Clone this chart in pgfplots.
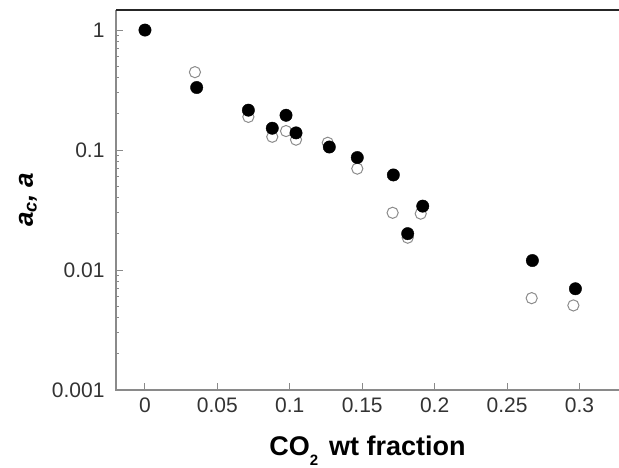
\documentclass[border=0pt]{standalone}
\usepackage{pgfplots}
\pgfplotsset{compat=1.18}
\usepackage{fontspec}
\setmainfont{Liberation Sans}

\definecolor{axgray}{HTML}{8A8A8A}
\definecolor{opengray}{HTML}{8C8C8C}
\definecolor{ticktext}{HTML}{333333}

\begin{document}
\begin{tikzpicture}
\begin{axis}[
  scale only axis, width=503pt, height=380pt,
  ymode=log,
  xmin=-0.02, xmax=0.3273, ymin=0.001, ymax=1.47,
  xtick={0,0.05,0.1,0.15,0.2,0.25,0.3},
  xticklabels={0,0.05,0.1,0.15,0.2,0.25,0.3},
  ytick={0.001,0.01,0.1,1},
  yticklabels={0.001,0.01,0.1,1},
  minor ytick={}, log ticks with fixed point,
  xtick pos=bottom, ytick pos=left,
  tick align=inside, major tick length=7pt,
  tick style={axgray, line width=1pt},
  axis line style={draw=none},
  /pgf/number format/assume math mode=true,
  ticklabel style={font=\fontsize{21}{24}\selectfont, text=ticktext},
  xticklabel shift=4pt, yticklabel shift=8pt,
  every axis x label/.style={at={(rel axis cs:0.5,0)}, anchor=base, yshift=-65pt},
  every axis y label/.style={at={(rel axis cs:0,0.5)}, anchor=center, rotate=90, yshift=88pt},
  xlabel={\fontsize{27}{30}\selectfont\bfseries CO\raisebox{-0.38em}{\fontsize{15}{15}\selectfont 2}\hspace{0.12em} wt fraction},
  ylabel={\fontsize{26}{30}\selectfont\bfseries\itshape a\textsubscript{c}, a},
  clip=false,
]
% open circles
\addplot[only marks, mark=*, mark size=5.6pt,
  mark options={draw=opengray, fill=white, line width=1pt}] coordinates {
  (0.0345,0.446) (0.0714,0.189) (0.0879,0.129) (0.0974,0.144) (0.1043,0.122)
  (0.1262,0.115) (0.1466,0.070) (0.1710,0.030) (0.1904,0.0295) (0.1814,0.0186)
  (0.2670,0.00583) (0.2958,0.00507)};
% filled circles
\addplot[only marks, mark=*, mark size=6.2pt,
  mark options={draw=black, fill=black}] coordinates {
  (0,1) (0.0357,0.332) (0.0714,0.215) (0.0879,0.152) (0.0974,0.195)
  (0.1043,0.139) (0.1273,0.106) (0.1466,0.0866) (0.1715,0.062) (0.1918,0.0341)
  (0.1814,0.0201) (0.2675,0.0120) (0.2972,0.00698)};
\draw[axgray, line width=1.3pt] (rel axis cs:0,1) -- (rel axis cs:0,0) -- (rel axis cs:1,0);
\draw[black!85, line width=1.4pt] (rel axis cs:0,1) -- (rel axis cs:1,1);
\coordinate (bl) at (rel axis cs:0,0);
\coordinate (tr) at (rel axis cs:1,1);
\end{axis}
\pgfresetboundingbox
\path ([xshift=-116pt,yshift=-77pt]bl) rectangle ([yshift=10pt]tr);
\end{tikzpicture}
\end{document}
